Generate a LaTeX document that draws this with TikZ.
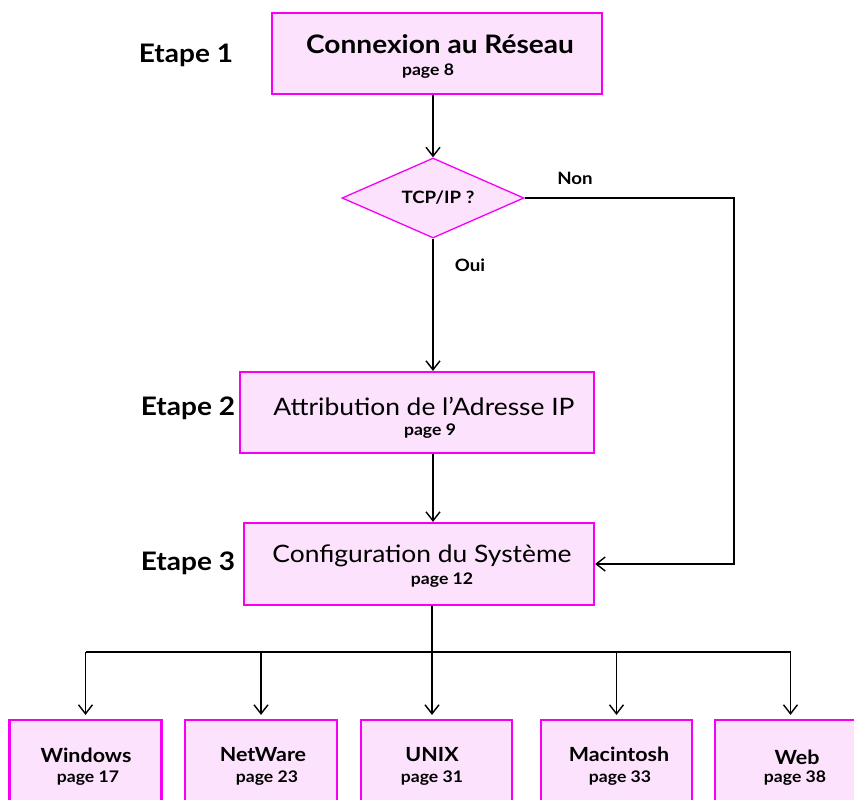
\documentclass[tikz,border=0pt]{standalone}
\usepackage{fontspec}
\setmainfont{Lato}[FakeStretch=1.1]
\usetikzlibrary{arrows.meta,shapes.geometric}
\definecolor{boxline}{RGB}{245,0,245}
\definecolor{boxfill}{RGB}{252,226,252}
\begin{document}
\begin{tikzpicture}[x=1pt,y=-1pt,
  box/.style={draw=boxline,fill=boxfill,line width=2.2pt,rectangle,inner sep=0pt},
  dia/.style={draw=boxline,fill=boxfill,line width=1.3pt,diamond,inner sep=0pt,minimum width=182pt,minimum height=80pt},
  arr/.style={line width=1.8pt,-{Straight Barb[length=9pt,width=14pt,line width=1.4pt]}},
  ln/.style={line width=1.8pt},
  title/.style={font=\fontsize{25.5}{27}\selectfont\bfseries,inner sep=0pt},
  titlereg/.style={font=\fontsize{24}{26}\selectfont,inner sep=0pt},
  pg/.style={font=\fontsize{16}{18}\selectfont\bfseries,inner sep=0pt},
  osname/.style={font=\fontsize{19.5}{21}\selectfont\bfseries,inner sep=0pt},
  etape/.style={font=\fontsize{25.5}{27}\selectfont\bfseries,inner sep=0pt},
  lab/.style={font=\fontsize{17}{19}\selectfont\bfseries,inner sep=0pt}]
\useasboundingbox (0,0) rectangle (854,800);
\clip (0,0) rectangle (854,800);

% main boxes
\node[box,minimum width=330pt,minimum height=81pt] (b1) at (437,53.5) {};
\node[title] (b1t) at (440,44) {Connexion au Réseau};
\node[pg] (b1p) at (428,71) {page 8};

\node[dia] (d) at (433,198) {};
\node[lab] (dt) at (438,198) {TCP/IP ?};

\node[box,minimum width=354pt,minimum height=81pt] (b2) at (417,412.5) {};
\node[titlereg] (b2t) at (424,406) {Attribution de l’Adresse IP};
\node[pg] (b2p) at (430,431) {page 9};

\node[box,minimum width=350pt,minimum height=82pt] (b3) at (419,564) {};
\node[titlereg] (b3t) at (422,556) {Configuration du Système};
\node[pg] (b3p) at (442,580) {page 12};

% etapes
\node[etape] (e1) at (186,55) {Etape 1};
\node[etape] (e2) at (188,408) {Etape 2};
\node[etape] (e3) at (188,563) {Etape 3};

% labels
\node[lab] (non) at (575,178) {Non};
\node[lab] (oui) at (470,265) {Oui};

% bottom boxes
\node[box,minimum width=152pt,minimum height=100pt] (w) at (85.5,770) {};
\node[box,minimum width=152pt,minimum height=100pt] (n) at (261,770) {};
\node[box,minimum width=151pt,minimum height=100pt] (u) at (436.5,770) {};
\node[box,minimum width=151pt,minimum height=100pt] (m) at (616.5,770) {};
\node[box,minimum width=151pt,minimum height=100pt] (web) at (790.5,770) {};

\node[osname] (wt) at (86,755) {Windows};
\node[pg] (wp) at (88,778) {page 17};
\node[osname] (nt) at (263,755) {NetWare};
\node[pg] (np) at (267,778) {page 23};
\node[osname] (ut) at (432,755) {UNIX};
\node[pg] (up) at (432,778) {page 31};
\node[osname] (mt) at (619,754) {Macintosh};
\node[pg] (mp) at (620,778) {page 33};
\node[osname] (webt) at (797,757) {Web};
\node[pg] (webp) at (795,778) {page 38};

% connectors
\coordinate (nr) at (734,0);
\coordinate (j) at (432,652);
\draw[arr] (b1.south -| d.north) -- (d.north);
\draw[arr] (d.south) -- (b2.north -| d.south);
\draw[arr] (b2.south -| d.south) -- (b3.north -| d.south);
\draw[arr] (d.east) -- (d.east -| nr) |- (b3.east);
\draw[ln] (b3.south -| j) -- (j);
\draw[ln] (j -| w.north) -- (j -| web.north);
\draw[arr,shorten >=4pt] (j -| w.north) -- (w.north);
\draw[arr,shorten >=4pt] (j -| n.north) -- (n.north);
\draw[arr,shorten >=4pt] (j) -- (u.north -| j);
\draw[arr,shorten >=4pt] (j -| m.north) -- (m.north);
\draw[arr,shorten >=4pt] (j -| web.north) -- (web.north);
\end{tikzpicture}
\end{document}
